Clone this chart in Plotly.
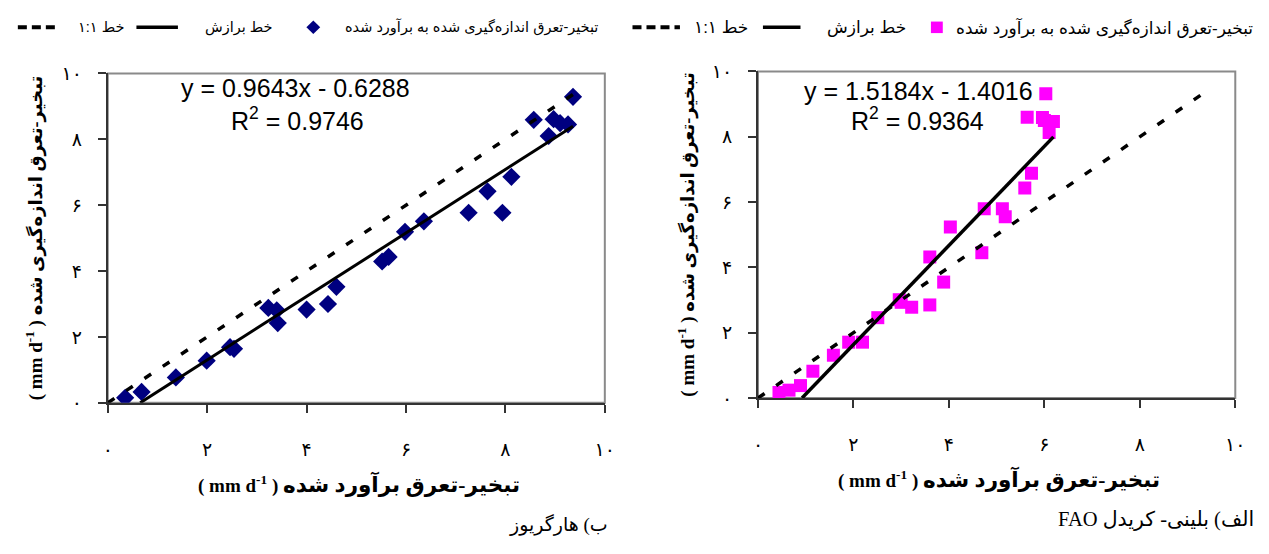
import plotly.graph_objects as go

W, H = 1269, 554

# ---------------- data ----------------
# (b) Hargreaves : estimated ET (x) vs measured ET (y)
har_est = [0.35, 0.68, 1.37, 1.99, 2.46, 2.54, 3.23, 3.40, 3.42, 4.00, 4.43, 4.60, 5.52,
           5.65, 5.98, 6.36, 7.26, 7.64, 7.94, 8.12, 8.57, 8.87, 8.97, 9.10, 9.26, 9.36]
har_meas = [0.15, 0.33, 0.77, 1.28, 1.69, 1.64, 2.88, 2.81, 2.42, 2.83, 3.00, 3.52, 4.29,
            4.43, 5.19, 5.51, 5.77, 6.42, 5.77, 6.86, 8.59, 8.10, 8.61, 8.49, 8.45, 9.29]
har_slope, har_intercept, har_r2 = 0.9643, -0.6288, 0.9746

# (a) FAO Blaney-Criddle : estimated ET (x) vs measured ET (y)
bc_est = [0.44, 0.65, 0.89, 1.15, 1.58, 1.90, 2.19, 2.51, 2.96, 3.00, 3.22, 3.60, 3.60, 3.89,
          4.03, 4.69, 4.74, 5.12, 5.18, 5.59, 5.73, 5.64, 5.96, 6.03, 6.00, 6.19, 6.10]
bc_meas = [0.17, 0.24, 0.38, 0.82, 1.31, 1.71, 1.71, 2.46, 3.01, 2.93, 2.78, 2.85, 4.32, 3.55,
           5.24, 4.45, 5.80, 5.80, 5.55, 6.43, 6.88, 8.60, 8.59, 9.32, 8.50, 8.47, 8.13]
bc_slope, bc_intercept, bc_r2 = 1.5184, -1.4016, 0.9364

tick_vals = [0, 2, 4, 6, 8, 10]
tick_text = ["۰", "۲", "۴", "۶", "۸", "۱۰"]

legend_data = "تبخیر-تعرق اندازه\u200cگیری شده به برآورد شده"
legend_fit = "خط برازش"
legend_one = "خط ۱:۱"
unit_txt = "( mm d<sup>-1</sup> )"
x_title_fa = "تبخیر-تعرق برآورد شده"
y_title_fa = "تبخیر-تعرق اندازه\u200cگیری شده"
cap_left = "ب) هارگریوز"
cap_right = "\u202bالف) بلینی- کریدل FAO\u202c"


def px(x):
    return x / W


def py(y):
    return 1 - y / H


def fit_xy(xs, a, b):
    x0 = max(min(xs), -b / a)
    x1 = max(xs)
    return [x0, x1], [a * x0 + b, a * x1 + b]


def one_xy(xs, ys):
    m = max(max(xs), max(ys))
    return [0, m], [0, m]


fig = go.Figure()

# ---- left panel (Hargreaves)
fig.add_trace(go.Scatter(x=har_est, y=har_meas, mode="markers", xaxis="x", yaxis="y",
                         marker=dict(symbol="diamond", size=14, color="#000080"),
                         showlegend=False))
fx, fy = fit_xy(har_est, har_slope, har_intercept)
fig.add_trace(go.Scatter(x=fx, y=fy, mode="lines", xaxis="x", yaxis="y",
                         line=dict(color="black", width=3), showlegend=False))
ox, oy = one_xy(har_est, har_meas)
fig.add_trace(go.Scatter(x=ox, y=oy, mode="lines", xaxis="x", yaxis="y",
                         line=dict(color="black", width=3.5, dash="8px,14px"), showlegend=False))

# ---- right panel (Blaney-Criddle)
fig.add_trace(go.Scatter(x=bc_est, y=bc_meas, mode="markers", xaxis="x2", yaxis="y2",
                         marker=dict(symbol="square", size=13, color="#FF00FF"),
                         showlegend=False))
fx, fy = fit_xy(bc_est, bc_slope, bc_intercept)
fig.add_trace(go.Scatter(x=fx, y=fy, mode="lines", xaxis="x2", yaxis="y2",
                         line=dict(color="black", width=3.5), showlegend=False))
ox, oy = one_xy(bc_est, bc_meas)
fig.add_trace(go.Scatter(x=ox, y=oy, mode="lines", xaxis="x2", yaxis="y2",
                         line=dict(color="black", width=3.5, dash="8px,14px"), showlegend=False))

tickfont = dict(family="DejaVu Sans", size=19, color="black")


def xax(domain, anchor):
    return dict(domain=domain, range=[0, 10], tickvals=tick_vals, ticktext=tick_text,
                ticks="outside", ticklen=8, tickwidth=1.5, tickcolor="#333",
                showline=True, linecolor="#333", linewidth=2, showgrid=False,
                zeroline=False, tickfont=tickfont, ticklabelstandoff=20, anchor=anchor)


def yax(domain, anchor):
    return dict(domain=domain, range=[0, 10], tickvals=tick_vals, ticktext=tick_text,
                ticks="outside", ticklen=8, tickwidth=1.5, tickcolor="#333",
                showline=True, linecolor="#333", linewidth=2, showgrid=False,
                zeroline=False, tickfont=tickfont, ticklabelstandoff=12, anchor=anchor)


xa1 = xax([px(104), px(607)], "y")
xa2 = xax([px(762), px(1245)], "y2")
ya1 = yax([py(408), py(65)], "x")
ya2 = yax([py(403), py(63)], "x2")

shapes = []
for xr, yr in (("x", "y"), ("x2", "y2")):
    shapes.append(dict(type="rect", xref=xr + " domain", yref=yr + " domain",
                       x0=0, x1=1, y0=0, y1=1, layer="below",
                       line=dict(color="#8a8a8a", width=2)))

# legend symbols (paper coordinates)
LY = 17
for x0, x1 in ((13, 55), (635, 683)):
    shapes.append(dict(type="line", xref="paper", yref="paper", x0=px(x0), x1=px(x1),
                       y0=py(LY), y1=py(LY), line=dict(color="black", width=4, dash="9px,5px")))
for x0, x1 in ((133, 175), (767, 805)):
    shapes.append(dict(type="line", xref="paper", yref="paper", x0=px(x0), x1=px(x1),
                       y0=py(LY), y1=py(LY), line=dict(color="black", width=3.5)))
cx, r = 312, 7
shapes.append(dict(type="path", xref="paper", yref="paper",
                   path=f"M {px(cx - r)},{py(LY)} L {px(cx)},{py(LY - r)} L {px(cx + r)},{py(LY)} L {px(cx)},{py(LY + r)} Z",
                   fillcolor="#000080", line=dict(color="#000080", width=0)))
cx, r = 943, 6
shapes.append(dict(type="rect", xref="paper", yref="paper", x0=px(cx - r), x1=px(cx + r),
                   y0=py(LY + r), y1=py(LY - r), fillcolor="#FF00FF",
                   line=dict(color="#FF00FF", width=0)))

ann = []
lfont_l = dict(family="Liberation Sans, DejaVu Sans", size=14.5, color="black")
lfont_r = dict(family="Liberation Sans, DejaVu Sans", size=17, color="black")
for txt, x, f in ((legend_one, 72, lfont_l), (legend_fit, 200, lfont_l), (legend_data, 342, lfont_l),
                  (legend_one, 695, lfont_r), (legend_fit, 830, lfont_r), (legend_data, 960, lfont_r)):
    ann.append(dict(text=txt, xref="paper", yref="paper", x=px(x), y=py(LY), xanchor="left",
                    yanchor="middle", showarrow=False, font=f))

eqfont = dict(family="Liberation Sans, Arial", size=25, color="black")


def eq_text(a, b):
    sign = "-" if b < 0 else "+"
    return f"y = {a:.4f}x {sign} {abs(b):.4f}"


def center_ann(text, x, y, font, angle=0, xa="center"):
    return dict(text=text, xref="paper", yref="paper", x=px(x), y=py(y), xanchor=xa,
                yanchor="middle", showarrow=False, font=font, textangle=angle)


ann += [
    center_ann(eq_text(har_slope, har_intercept), 294, 80, eqfont),
    center_ann(f"R<sup>2</sup> = {har_r2:.4f}", 296, 112, eqfont),
    center_ann(eq_text(bc_slope, bc_intercept), 924, 83, eqfont),
    center_ann(f"R<sup>2</sup> = {bc_r2:.4f}", 923, 112, eqfont),
]

tfont = dict(family="Liberation Serif, DejaVu Sans", size=19, color="black")
xt = f"<b>{unit_txt} <span style='font-size:21.5px'>{x_title_fa}</span></b>"
yt = f"<b>{unit_txt} <span style='font-size:18px'>{y_title_fa}</span></b>"
ann += [
    center_ann(xt, 358, 493, tfont),
    center_ann(xt, 1006, 487, tfont),
    center_ann(yt, 30, 236, tfont, angle=-90),
    center_ann(yt, 690, 232, tfont, angle=-90),
]

cfont_l = dict(family="Liberation Serif, DejaVu Sans", size=19, color="black")
cfont_r = dict(family="Liberation Serif, DejaVu Sans", size=20.5, color="black")
ann += [
    center_ann(cap_left, 612, 535, cfont_l, xa="right"),
    center_ann(cap_right, 1266, 530, cfont_r, xa="right"),
]

fig.update_layout(
    width=W, height=H, margin=dict(l=0, r=0, t=0, b=0),
    paper_bgcolor="white", plot_bgcolor="white",
    xaxis=xa1, yaxis=ya1, xaxis2=xa2, yaxis2=ya2,
    shapes=shapes, annotations=ann, showlegend=False,
)

fig.write_html("out.html")
